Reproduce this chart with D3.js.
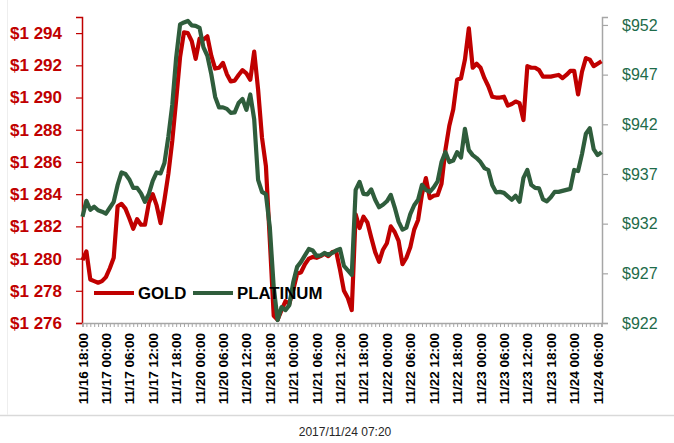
<!DOCTYPE html>
<html lang="en">
<head>
  <meta charset="UTF-8">
  <title>Gold vs Platinum</title>
  <script src="https://d3js.org/d3.v7.min.js"></script>
  <style>
    body { margin: 0; background: #fff; }
    svg { display: block; font-family: "Liberation Sans", Arial, sans-serif; }
  </style>
</head>
<body>
  <svg id="chart" width="674" height="443"></svg>
  <script>
    // tick labels on the category axis, one every 6 trading hours
    let timeLabels = ["11/16 18:00", "11/17 00:00", "11/17 06:00", "11/17 12:00", "11/17 18:00",
      "11/20 00:00", "11/20 06:00", "11/20 12:00", "11/20 18:00", "11/21 00:00", "11/21 06:00",
      "11/21 12:00", "11/21 18:00", "11/22 00:00", "11/22 06:00", "11/22 12:00", "11/22 18:00",
      "11/23 00:00", "11/23 06:00", "11/23 12:00", "11/23 18:00", "11/24 00:00", "11/24 06:00"];

    // hourly prices, starting at 11/16 18:00 (weekend skipped)
    let gold = [1279.9, 1280.45, 1278.7, 1278.6, 1278.5, 1278.6, 1278.85, 1279.4, 1280.05, 1283.25,
      1283.4, 1283.1, 1282.5, 1281.85, 1282.45, 1282.1, 1282.1, 1283.45, 1284.0, 1283.3,
      1282.2, 1283.65, 1285.25, 1287.3, 1289.85, 1292.5, 1294.05, 1294.0, 1293.5, 1292.4,
      1293.65, 1293.6, 1293.8, 1292.6, 1291.8, 1291.85, 1292.15, 1291.45, 1291.0, 1291.05,
      1291.4, 1291.7, 1291.5, 1291.1, 1292.85, 1290.5, 1287.5, 1285.75, 1281.15, 1276.45,
      1276.2, 1276.8, 1277.35, 1277.2, 1278.05, 1279.05, 1279.15, 1279.65, 1280.0, 1280.1,
      1280.05, 1280.15, 1280.3, 1280.15, 1280.4, 1280.45, 1279.3, 1278.0, 1277.55, 1276.8,
      1282.75, 1281.9, 1282.6, 1282.25, 1281.3, 1280.4, 1279.8, 1280.55, 1280.95, 1282.0,
      1281.65, 1281.1, 1279.65, 1280.05, 1280.7, 1281.8, 1282.4, 1284.0, 1285.0, 1283.75,
      1283.9, 1283.95, 1284.65, 1286.75, 1288.25, 1289.25, 1291.1, 1291.2, 1292.35, 1294.3,
      1291.85, 1292.1, 1291.85, 1291.2, 1290.7, 1290.05, 1290.0, 1290.0, 1290.05, 1289.5,
      1289.6, 1289.75, 1289.65, 1288.6, 1291.95, 1291.85, 1291.85, 1291.7, 1291.3, 1291.3,
      1291.3, 1291.35, 1291.4, 1291.2, 1291.4, 1291.65, 1291.65, 1290.2, 1291.6, 1292.45,
      1292.35, 1291.95, 1292.1, 1292.25];

    let platinum = [932.7, 934.3, 933.4, 933.7, 933.35, 933.2, 933.0, 933.6, 934.2, 935.9,
      937.15, 937.0, 936.45, 935.6, 935.6, 935.05, 934.2, 935.0, 936.3, 937.15,
      937.05, 938.1, 940.75, 943.95, 948.7, 952.05, 952.25, 952.4, 951.95, 951.9,
      951.7, 949.75, 948.9, 947.05, 944.75, 943.7, 943.7, 943.55, 943.15, 943.2,
      944.15, 944.55, 943.45, 945.0, 942.5, 936.4, 935.2, 934.95, 931.65, 925.6,
      922.3, 923.6, 923.3, 923.8, 926.1, 927.65, 928.15, 928.8, 929.45, 929.3,
      928.75, 928.8, 929.05, 928.85, 929.05, 929.3, 929.45, 927.75, 927.3, 926.85,
      935.4, 936.2, 935.0, 934.95, 935.45, 934.4, 933.65, 933.9, 934.25, 934.9,
      933.65, 932.2, 931.4, 931.6, 932.95, 933.85, 934.4, 935.9, 935.4, 935.2,
      935.65, 936.25, 938.2, 939.2, 938.2, 938.35, 939.2, 938.65, 941.55, 939.4,
      938.9, 938.6, 938.2, 937.6, 937.4, 935.9, 935.15, 935.2, 935.1, 934.75,
      934.4, 934.8, 934.2, 936.6, 937.4, 935.9, 935.6, 935.55, 934.45, 934.25,
      934.65, 935.2, 935.2, 935.3, 935.4, 935.5, 937.4, 937.3, 939.0, 941.05,
      941.6, 939.5, 938.9, 939.2];

    let goldTicks = [1276, 1278, 1280, 1282, 1284, 1286, 1288, 1290, 1292, 1294];
    let platTicks = [922, 927, 932, 937, 942, 947, 952];
    let stamp = "2017/11/24 07:20";

    const red = "#c00000";
    const green = "#2f5d3c";
    const greenText = "#1e6b4a";

    const svg = d3.select("#chart");
    const plotTop = 17, plotBottom = 323, plotLeft = 82, plotRight = 602;

    const x = d3.scaleLinear().domain([0, gold.length - 1]).range([plotLeft + 0.5, plotRight - 0.5]);
    const yG = d3.scaleLinear().domain([1276, 1295]).range([plotBottom, plotTop]);
    const yP = d3.scaleLinear().domain([922, 952.8]).range([plotBottom, plotTop]);

    // footer rule and time stamp
    svg.append("line").attr("x1", 0).attr("x2", 674).attr("y1", 415.5).attr("y2", 415.5)
      .attr("stroke", "#d9d9d9").attr("stroke-width", 1.5);
    svg.append("line").attr("x1", 7.5).attr("x2", 7.5).attr("y1", 0).attr("y2", 415)
      .attr("stroke", "#eeeeee");
    svg.append("text").attr("x", 345).attr("y", 436).attr("text-anchor", "middle")
      .attr("font-size", 12).attr("fill", "#262626").text(stamp);

    // left axis (gold)
    const axL = svg.append("g").attr("transform", `translate(${plotLeft},0)`)
      .call(d3.axisLeft(yG).tickValues(goldTicks).tickSize(6).tickPadding(14)
        .tickFormat(d => "$1 " + String(d).slice(1)));
    axL.select(".domain").attr("stroke", red).attr("stroke-width", 1.5);
    axL.selectAll(".tick line").attr("stroke", red).attr("stroke-width", 1.2);
    axL.selectAll(".tick text").attr("fill", red).attr("font-size", 17).attr("font-weight", "bold")
      .attr("font-family", "Liberation Sans, Arial, sans-serif");

    // right axis (platinum)
    const axR = svg.append("g").attr("transform", `translate(${plotRight},0)`)
      .call(d3.axisRight(yP).tickValues(platTicks).tickSize(6).tickPadding(14)
        .tickFormat(d => "$" + d));
    axR.select(".domain").attr("stroke", "#a6a6a6").attr("stroke-width", 1.5);
    axR.selectAll(".tick line").attr("stroke", "#a6a6a6").attr("stroke-width", 1.2);
    axR.selectAll(".tick text").attr("fill", greenText).attr("font-size", 16)
      .attr("font-family", "Liberation Sans, Arial, sans-serif");

    // bottom axis: hourly minor ticks, labels every 6 hours
    const axB = svg.append("g").attr("transform", `translate(0,${plotBottom})`)
      .call(d3.axisBottom(x).tickValues(d3.range(0, gold.length)).tickSize(4).tickFormat(""));
    axB.select(".domain").attr("stroke", "#a6a6a6").attr("stroke-width", 1.5);
    axB.selectAll(".tick line").attr("stroke", "#a6a6a6");

    svg.append("g").selectAll("text").data(timeLabels).join("text")
      .attr("transform", (d, i) => `translate(${x(i * 6) + 0.3},333) rotate(-90)`)
      .attr("text-anchor", "end").attr("dy", "0.35em")
      .attr("font-size", 13.5).attr("font-weight", "bold").attr("fill", "#000")
      .text(d => d);

    // lines
    const lineG = d3.line().x((d, i) => x(i)).y(d => yG(d));
    const lineP = d3.line().x((d, i) => x(i)).y(d => yP(d));

    svg.append("path").datum(gold).attr("d", lineG).attr("fill", "none")
      .attr("stroke", red).attr("stroke-width", 4.2).attr("stroke-linejoin", "round");
    svg.append("path").datum(platinum).attr("d", lineP).attr("fill", "none")
      .attr("stroke", green).attr("stroke-width", 4.2).attr("stroke-linejoin", "round");

    // legend
    const legend = svg.append("g").attr("transform", "translate(94,293)");
    const items = [{ name: "GOLD", color: red, x: 0 }, { name: "PLATINUM", color: green, x: 99 }];
    items.forEach(it => {
      legend.append("line").attr("x1", it.x).attr("x2", it.x + 40).attr("y1", 0).attr("y2", 0)
        .attr("stroke", it.color).attr("stroke-width", 4);
      legend.append("text").attr("x", it.x + 44).attr("y", 0).attr("dy", "0.36em")
        .attr("font-size", 16.8).attr("font-weight", "bold").attr("fill", "#000").text(it.name);
    });
  </script>
</body>
</html>
